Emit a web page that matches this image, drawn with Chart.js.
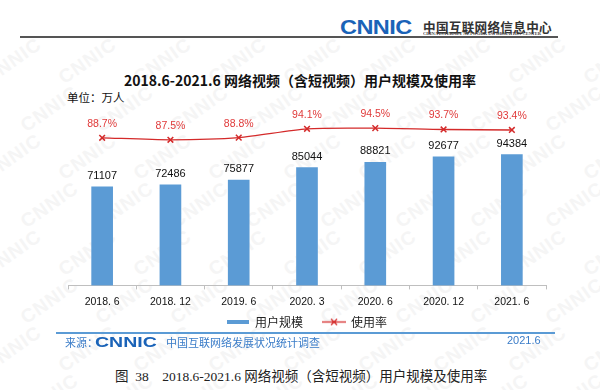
<!DOCTYPE html>
<html>
<head>
<meta charset="utf-8">
<script src="https://cdn.jsdelivr.net/npm/chart.js@4.4.1/dist/chart.umd.min.js"></script>
<style>
  html, body { margin: 0; padding: 0; background: #fff; }
  body { width: 600px; height: 390px; position: relative; overflow: hidden; font-family: "Noto Sans CJK SC", "Liberation Sans", sans-serif; }
  .abs { position: absolute; white-space: nowrap; }
  .wm { position: absolute; font: bold 19px "Liberation Sans", sans-serif; color: #f5f5f5; transform: rotate(-35deg); letter-spacing: 1px; }
  #wrap { position: absolute; left: 0; top: 100px; width: 600px; height: 239px; }
</style>
</head>
<body>
<div id="marks"></div>

<!-- header -->
<div class="abs" style="left:340px;top:15px;font:bold 21px 'Liberation Sans',sans-serif;color:#1a63b8;transform:scaleX(1.12);transform-origin:left top;letter-spacing:-0.5px;">CNNIC</div>
<div class="abs" style="left:423px;top:17px;font:bold 12.6px 'Noto Sans CJK SC',serif;color:#333;letter-spacing:0.3px;">中国互联网络信息中心</div>
<div class="abs" style="left:423px;top:31px;font:bold 8px 'Liberation Serif',serif;color:#444;transform:scale(0.56);transform-origin:left top;">CHINA INTERNET NETWORK INFORMATION CENTER</div>
<div class="abs" style="left:20px;top:36px;width:538px;height:1.5px;background:#555;"></div>

<!-- title -->
<div class="abs" style="left:0;width:600px;top:70px;text-align:center;font:bold 14px 'Noto Sans CJK SC',sans-serif;color:#111;">2018.6-2021.6 网络视频（含短视频）用户规模及使用率</div>
<div class="abs" style="left:67px;top:89px;font:11.5px 'Noto Sans CJK SC',sans-serif;color:#111;">单位：万人</div>

<div id="wrap"><canvas id="chart"></canvas></div>

<!-- source -->
<div class="abs" style="left:56px;top:332px;width:499px;height:1.5px;background:#5b9bd5;"></div>
<div class="abs" style="left:65px;top:334px;font:11px 'Noto Sans CJK SC',sans-serif;color:#3a7cc8;">来源：</div>
<div class="abs" style="left:95px;top:333px;font:bold 15px 'Liberation Sans',sans-serif;color:#1a63b8;transform:scaleX(1.3);transform-origin:left top;">CNNIC</div>
<div class="abs" style="left:166px;top:334px;font:11px 'Noto Sans CJK SC',sans-serif;color:#3a7cc8;">中国互联网络发展状况统计调查</div>
<div class="abs" style="left:507px;top:334px;font:11px 'Liberation Sans',sans-serif;color:#3a7cc8;">2021.6</div>

<!-- caption -->
<div class="abs" style="left:115px;top:365px;font:13.5px 'Liberation Serif','Noto Sans CJK SC',serif;color:#222;">图&nbsp;&nbsp;38&nbsp;&nbsp;&nbsp;&nbsp;2018.6-2021.6 网络视频（含短视频）用户规模及使用率</div>

<script>
// faint background watermark
const marks = document.getElementById('marks');
for (let r = 0; r < 9; r++) {
    for (let c = 0; c < 9; c++) {
        const d = document.createElement('div');
        d.className = 'wm';
        d.textContent = 'CNNIC';
        d.style.left = (c * 75 + (r % 2) * 37 - 20) + 'px';
        d.style.top = (r * 48 + 50) + 'px';
        marks.appendChild(d);
    }
}

const categories = ['2018. 6', '2018. 12', '2019. 6', '2020. 3', '2020. 6', '2020. 12', '2021. 6'];
const users = [71107, 72486, 75877, 85044, 88821, 92677, 94384];
const usageRate = [88.7, 87.5, 88.8, 94.1, 94.5, 93.7, 93.4];

const BLUE = '#5b9bd5';
const RED = '#d42a2a';

// legend swatches
function swatchBar() {
    const c = document.createElement('canvas');
    c.width = 22; c.height = 4;
    const g = c.getContext('2d');
    g.fillStyle = BLUE;
    g.fillRect(0, 0, 22, 4);
    return c;
}
function swatchLine() {
    const c = document.createElement('canvas');
    c.width = 24; c.height = 9;
    const g = c.getContext('2d');
    g.strokeStyle = RED;
    g.lineWidth = 1.3;
    g.beginPath(); g.moveTo(0, 4.5); g.lineTo(24, 4.5); g.stroke();
    g.beginPath();
    g.moveTo(9, 1.5); g.lineTo(15, 7.5);
    g.moveTo(15, 1.5); g.lineTo(9, 7.5);
    g.stroke();
    return c;
}

const valueLabels = {
    id: 'valueLabels',
    afterDatasetsDraw(chart) {
        const ctx = chart.ctx;
        ctx.save();
        ctx.textAlign = 'center';
        ctx.textBaseline = 'middle';
        chart.getDatasetMeta(0).data.forEach((bar, i) => {
            ctx.font = '11px "Liberation Sans", sans-serif';
            ctx.fillStyle = '#111';
            ctx.fillText(users[i], bar.x, bar.y - 11);
        });
        chart.getDatasetMeta(1).data.forEach((pt, i) => {
            ctx.font = '10.5px "Liberation Sans", sans-serif';
            ctx.fillStyle = '#e03a3a';
            ctx.fillText(usageRate[i].toFixed(1) + '%', pt.x, pt.y - 14);
        });
        ctx.restore();
    }
};

const ctx = document.getElementById('chart');
const chart = new Chart(ctx, {
    data: {
        labels: categories,
        datasets: [
            {
                type: 'bar',
                label: '用户规模',
                data: users,
                backgroundColor: BLUE,
                barThickness: 21,
                yAxisID: 'y',
                order: 2
            },
            {
                type: 'line',
                label: '使用率',
                data: usageRate,
                borderColor: RED,
                borderWidth: 1.3,
                tension: 0.25,
                pointStyle: 'crossRot',
                pointRadius: 4,
                pointBorderWidth: 1.5,
                pointBorderColor: RED,
                yAxisID: 'y1',
                order: 1
            }
        ]
    },
    options: {
        responsive: true,
        maintainAspectRatio: false,
        animation: false,
        layout: { padding: { left: 68, right: 54, top: 19, bottom: 1 } },
        plugins: {
            tooltip: { enabled: false },
            legend: {
                position: 'bottom',
                labels: {
                    usePointStyle: true,
                    pointStyleWidth: 22,
                    padding: 2,
                    color: '#222',
                    font: { size: 12, family: '"Noto Sans CJK SC", sans-serif' },
                    generateLabels: function (chart) {
                        return [
                            { text: '用户规模\u3000\u2002', pointStyle: swatchBar(), datasetIndex: 0, fillStyle: BLUE, strokeStyle: BLUE, lineWidth: 0, fontColor: '#222' },
                            { text: '使用率', pointStyle: swatchLine(), datasetIndex: 1, fillStyle: RED, strokeStyle: RED, lineWidth: 0, fontColor: '#222' }
                        ];
                    }
                }
            }
        },
        scales: {
            x: {
                grid: { drawOnChartArea: false, drawTicks: true, tickLength: 4, color: '#bfbfbf', offset: true },
                border: { color: '#bfbfbf', width: 1 },
                ticks: { padding: 6, color: '#111', font: { size: 10.5, family: '"Liberation Sans", sans-serif' } }
            },
            y: { display: false, min: 0, max: 120000 },
            y1: { display: false, min: 0, max: 100, position: 'right' }
        }
    },
    plugins: [valueLabels]
});
</script>
</body>
</html>
